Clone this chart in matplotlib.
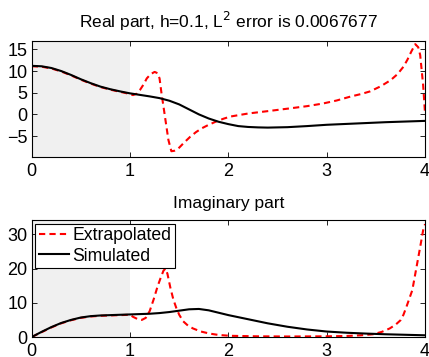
import numpy as np
import matplotlib.pyplot as plt

plt.rcParams["font.family"] = ["Liberation Sans", "DejaVu Sans"]
plt.rcParams["font.size"] = 12.7

# -- Data ---------------------------------------------------------------------

real_sim_x = [0, 0.1, 0.2, 0.3, 0.4, 0.5, 0.6, 0.7, 0.8, 0.9, 1.0, 1.1, 1.2, 1.3,
              1.4, 1.5, 1.6, 1.7, 1.8, 1.9, 2.0, 2.1, 2.2, 2.3, 2.4, 2.6, 2.8, 3.0,
              3.2, 3.4, 3.6, 3.8, 4.0]
real_sim_y = [11.2, 11.1, 10.7, 10.0, 9.1, 8.1, 7.2, 6.4, 5.8, 5.3, 4.85, 4.5, 4.15,
              3.75, 3.15, 2.3, 1.15, 0.0, -0.95, -1.7, -2.25, -2.7, -2.9, -3.0, -3.05,
              -2.95, -2.7, -2.4, -2.2, -2.0, -1.8, -1.65, -1.5]

real_ext_x = [0, 0.1, 0.2, 0.3, 0.4, 0.5, 0.6, 0.7, 0.8, 0.9, 1.0, 1.03, 1.07, 1.1,
              1.14, 1.17, 1.21, 1.25, 1.28, 1.30, 1.32, 1.34, 1.36, 1.39, 1.42, 1.45,
              1.49, 1.55, 1.61, 1.67, 1.73, 1.80, 1.88, 1.95, 2.02, 2.2, 2.4, 2.63,
              2.8, 2.96, 3.1, 3.24, 3.35, 3.44, 3.55, 3.65, 3.72, 3.78, 3.82, 3.86,
              3.90, 3.93, 3.95, 3.98, 4.0]
real_ext_y = [11.1, 11.0, 10.6, 9.9, 9.0, 8.0, 7.1, 6.3, 5.7, 5.2, 4.7, 4.45, 4.8,
              5.6, 7.0, 8.3, 9.3, 9.8, 9.5, 8.3, 4.8, 1.8, -1.3, -5.9, -8.5, -8.4,
              -7.9, -6.5, -5.2, -4.1, -3.2, -2.4, -1.6, -1.0, -0.5, 0.2, 0.75, 1.4,
              1.9, 2.5, 3.2, 4.1, 4.7, 5.3, 6.5, 7.9, 9.3, 11.0, 12.6, 14.5,
              16.2, 15.5, 13.7, 6.8, 0.0]

imag_sim_x = [0, 0.1, 0.2, 0.3, 0.4, 0.5, 0.6, 0.7, 0.8, 0.9, 1.0, 1.1, 1.2, 1.3,
              1.4, 1.5, 1.6, 1.7, 1.8, 1.9, 2.0, 2.2, 2.4, 2.6, 2.8, 3.0, 3.2, 3.4,
              3.6, 3.8, 4.0]
imag_sim_y = [0, 1.5, 2.9, 4.1, 5.0, 5.7, 6.1, 6.3, 6.4, 6.5, 6.6, 6.7, 6.8, 7.0,
              7.3, 7.7, 8.1, 8.2, 7.8, 7.1, 6.4, 5.2, 4.0, 3.0, 2.2, 1.6, 1.25, 1.0,
              0.8, 0.65, 0.5]

imag_ext_x = [0, 0.1, 0.2, 0.3, 0.4, 0.5, 0.6, 0.7, 0.8, 0.9, 1.0, 1.03, 1.08, 1.12,
              1.16, 1.20, 1.24, 1.28, 1.31, 1.34, 1.36, 1.38, 1.41, 1.44, 1.47, 1.50,
              1.54, 1.59, 1.64, 1.72, 1.81, 1.9, 2.02, 2.3, 2.6, 3.0, 3.2, 3.35,
              3.47, 3.56, 3.64, 3.70, 3.75, 3.78, 3.81, 3.87, 3.91, 3.95, 3.98, 4.0]
imag_ext_y = [0, 1.4, 2.8, 4.0, 4.9, 5.6, 6.0, 6.2, 6.3, 6.4, 6.5, 5.9, 5.2, 5.0,
              5.6, 7.6, 11.0, 14.8, 17.2, 19.4, 20.0, 18.5, 14.4, 11.0, 8.5, 6.5,
              4.6, 3.3, 2.5, 1.6, 1.0, 0.6, 0.35, 0.2, 0.15, 0.2, 0.3, 0.5,
              0.8, 1.5, 2.5, 3.6, 4.9, 6.5, 8.8, 13.7, 20.0, 26.3, 31.2, 33.0]

shade_span = (0, 1)
x_ticks = [0, 1, 2, 3, 4]
real_yticks = [-5, 0, 5, 10, 15]
imag_yticks = [0, 10, 20, 30]

# -- Figure --------------------------------------------------------------------

fig = plt.figure(figsize=(4.29, 3.57), dpi=100)
ax1 = fig.add_axes([0.0739, 0.5594, 0.917, 0.3266])
ax2 = fig.add_axes([0.0739, 0.056, 0.917, 0.3277])

DASH = (3.0, 2.0)
LW = 1.5

for ax in (ax1, ax2):
    ax.axvspan(*shade_span, color="#f0f0f0", zorder=0, linewidth=0)

ax1.plot(real_ext_x, real_ext_y, color="red", linestyle="--", dashes=DASH, linewidth=LW)
ax1.plot(real_sim_x, real_sim_y, color="black", linewidth=LW)
ax1.set_ylim(-9.9, 17)
ax1.set_yticks(real_yticks)
ax1.set_title("Real part, h=0.1, L$^2$ error is 0.0067677", fontsize=12.5, pad=9)

ax2.plot(imag_ext_x, imag_ext_y, color="red", linestyle="--", dashes=DASH,
         linewidth=LW, label="Extrapolated")
ax2.plot(imag_sim_x, imag_sim_y, color="black", linewidth=LW, label="Simulated")
ax2.set_ylim(0, 34.2)
ax2.set_yticks(imag_yticks)
ax2.set_title("Imaginary part", fontsize=12.5, pad=9)
leg = ax2.legend(loc="upper left", fancybox=False, framealpha=1, edgecolor="black",
                 borderaxespad=0.2, handlelength=1.7, handletextpad=0.2,
                 borderpad=0.2, labelspacing=0.2, fontsize=12.7)
leg.get_frame().set_linewidth(0.8)

for ax in (ax1, ax2):
    ax.set_xlim(0, 4)
    ax.set_xticks(x_ticks)
    ax.tick_params(direction="in", top=True, right=True, length=3.5, width=0.6,
                   labelsize=13)
    ax.tick_params(axis="x", pad=4)
    ax.tick_params(axis="y", pad=3)
    for sp in ax.spines.values():
        sp.set_linewidth(0.8)

fig.savefig("out.png", dpi=100)
